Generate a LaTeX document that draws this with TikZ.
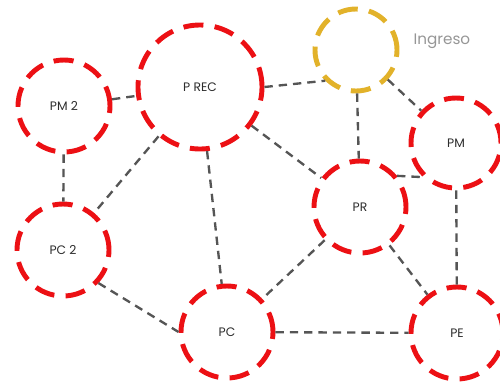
\documentclass[tikz,border=0pt]{standalone}
\usepackage{fontspec}
\setmainfont{Poppins}
\usetikzlibrary{positioning}
\definecolor{NetRed}{RGB}{236,16,20}
\definecolor{NetGold}{RGB}{226,178,42}
\definecolor{NetGray}{RGB}{85,85,85}
\definecolor{NetText}{RGB}{45,45,45}
\definecolor{NetLabel}{RGB}{150,150,150}
\tikzset{
  net/state/.style={
    circle,
    draw=NetRed,
    line width=4.2pt,
    dash pattern=on 0.6cm off 0.34cm,
    fill=white,
    inner sep=0pt,
    minimum size=2.76cm,
    text=NetText,
    font=\fontsize{10.5}{12}\selectfont
  },
  net/entry/.style={
    net/state,
    draw=NetGold,
    minimum size=2.46cm
  },
  net/link/.style={draw=NetGray, line width=2pt, dash pattern=on 0.25cm off 0.18cm},
  net/label/.style={font=\fontsize{13}{15}\selectfont, text=NetLabel}
}

\begin{document}
\begin{tikzpicture}[x=0.03cm,y=-0.03cm]
  \useasboundingbox (0,0) rectangle (500,385);
  \node[net/state] (pm2) at (64,106) {PM 2};
  \node[net/state, minimum size=3.72cm] (prec) at (200,87) {P REC};
  \node[net/entry] (ing) at (356,50) {};
  \node[net/state, minimum size=2.7cm] (pm) at (456,143) {PM};
  \node[net/state] (pr) at (360,207) {PR};
  \node[net/state] (pc2) at (63,250) {PC 2};
  \node[net/state] (pc) at (227,332) {PC};
  \node[net/state] (pe) at (457,333) {PE};
  \node[net/label, right=0.3cm of ing.east, yshift=0.25cm] (inglabel) {Ingreso};
  \draw[net/link] (pm2) -- (prec);
  \draw[net/link] (pm2) -- (pc2);
  \draw[net/link] (prec) -- (pc2);
  \draw[net/link] (prec) -- (pc);
  \draw[net/link] (prec.east) -- (ing.225);
  \draw[net/link] (prec) -- (pr);
  \draw[net/link] (ing) -- (pr);
  \draw[net/link] (ing) -- (pm);
  \draw[net/link] (pr.40) -- (pm.226);
  \draw[net/link] (pm) -- (pe);
  \draw[net/link] (pr) -- (pc);
  \draw[net/link] (pr) -- (pe);
  \draw[net/link] (pc) -- (pe);
  \draw[net/link] (pc2.-43) -- (pc.west);
\end{tikzpicture}
\end{document}
